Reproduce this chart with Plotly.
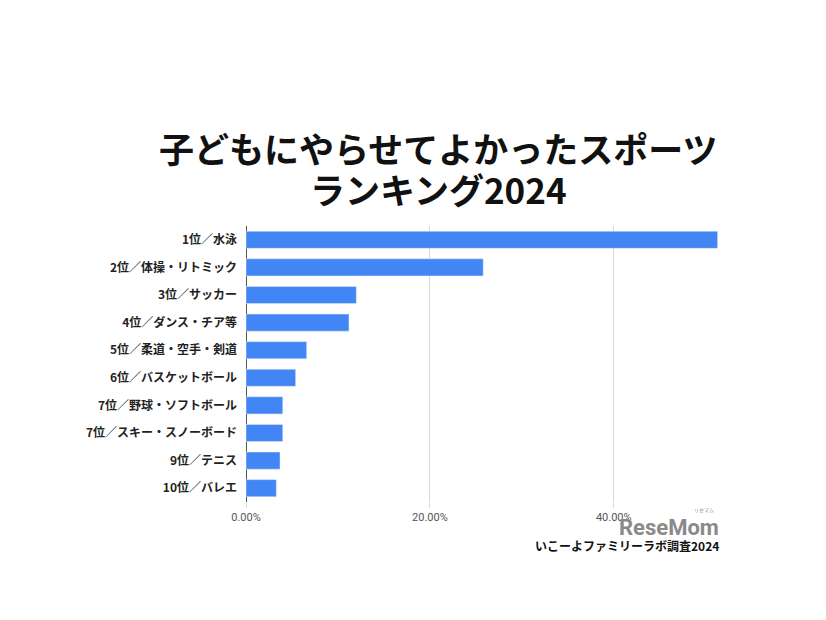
import plotly.graph_objects as go

categories = ["1位／水泳", "2位／体操・リトミック", "3位／サッカー", "4位／ダンス・チア等",
              "5位／柔道・空手・剣道", "6位／バスケットボール", "7位／野球・ソフトボール",
              "7位／スキー・スノーボード", "9位／テニス", "10位／バレエ"]
values = [0.513, 0.258, 0.120, 0.112, 0.066, 0.054, 0.040, 0.040, 0.037, 0.033]
tick_vals = [0, 0.2, 0.4]
title_lines = ["子どもにやらせてよかったスポーツ", "ランキング2024"]
source = "いこーよファミリーラボ調査2024"

font_jp = "Noto Sans CJK JP"

W, H = 826, 620
OFF = 8  # page body margin offset
pl, pr, pt, pb = 246 - OFF, W - (719 - OFF), 226 - OFF, H - (502 - OFF)
pw, ph = W - pl - pr, H - pt - pb

def px(x):
    return (x - OFF - pl) / pw

def py(y):
    return (H - pb - (y - OFF)) / ph

fig = go.Figure(go.Bar(
    x=values, y=categories, orientation="h",
    marker=dict(color="#4285F4"), width=0.62,
))

anns = []
for txt, yy in zip(title_lines, [147, 188]):
    anns.append(dict(text="<b>" + txt + "</b>", x=px(438), y=py(yy), xref="paper", yref="paper",
                     showarrow=False, xanchor="center", yanchor="middle",
                     font=dict(size=35, color="#111111", family=font_jp)))
anns.append(dict(text="<b>ReseMom</b>", x=px(721), y=py(527), xref="paper", yref="paper",
                 showarrow=False, xanchor="right", yanchor="middle",
                 font=dict(size=22, color="#8a8a8a", family="Roboto")))
anns.append(dict(text="リセマム", x=px(716), y=py(510), xref="paper", yref="paper",
                 showarrow=False, xanchor="right", yanchor="middle",
                 font=dict(size=5, color="#8a8a8a", family=font_jp)))
anns.append(dict(text="<b>" + source + "</b>", x=px(721), y=py(545), xref="paper", yref="paper",
                 showarrow=False, xanchor="right", yanchor="middle",
                 font=dict(size=12, color="#111111", family=font_jp)))

fig.update_layout(
    width=W, height=H,
    margin=dict(l=pl, r=pr, t=pt, b=pb, autoexpand=False),
    paper_bgcolor="white", plot_bgcolor="white",
    showlegend=False,
    font=dict(family=font_jp),
    xaxis=dict(
        range=[0, 0.5145], tickvals=tick_vals, tickformat=".2%",
        showgrid=True, gridcolor="#d9d9d9", gridwidth=1,
        zeroline=True, zerolinecolor="#555555", zerolinewidth=1,
        ticks="outside", ticklen=5, tickcolor="#d9d9d9",
        tickfont=dict(size=11, color="#555555", family="Roboto"),
        automargin=False,
    ),
    yaxis=dict(
        autorange="reversed", showgrid=False, zeroline=False,
        tickfont=dict(size=12, color="#222222", family=font_jp, weight="bold"),
        ticks="", ticklabelstandoff=8, automargin=False,
    ),
    annotations=anns,
)

fig.write_html("out.html")
